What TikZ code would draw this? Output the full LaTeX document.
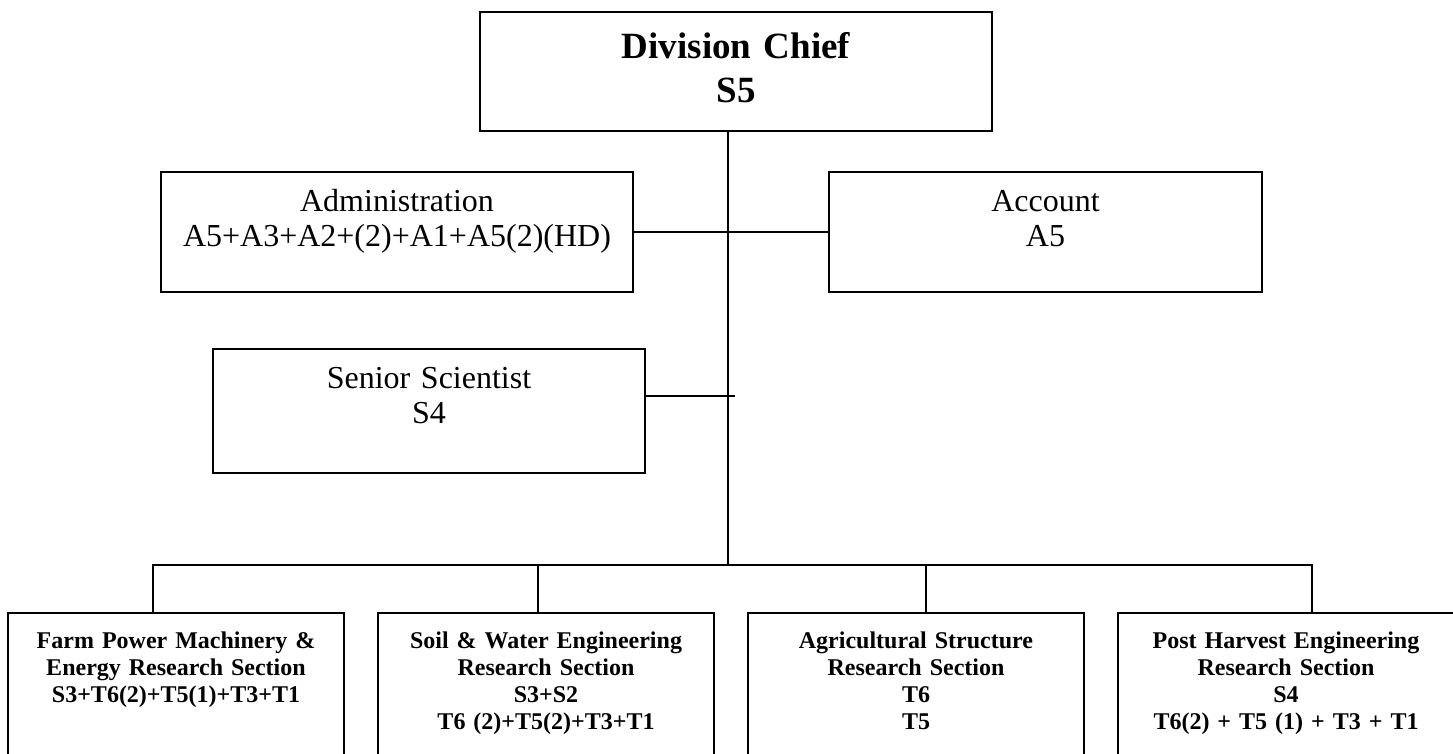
\documentclass[tikz,border=0pt]{standalone}
\usepackage{fontspec}
\setmainfont{Liberation Serif}
\usetikzlibrary{positioning}

\begin{document}
\begin{tikzpicture}[x=1pt, y=1pt, line width=2pt,
        orgbox/.style={rectangle, draw, line width=2pt, inner sep=0pt, align=center},
        topbox/.style={orgbox, font=\bfseries\fontsize{37}{44}\selectfont, text height=46pt, text depth=73pt},
        midbox/.style={orgbox, font=\fontsize{32}{35}\selectfont, text height=39pt, text depth=81pt},
        secbox/.style={orgbox, font=\bfseries\fontsize{24}{27}\selectfont, text height=35pt, text depth=200pt, text width=336pt}]
            \useasboundingbox (0,0) rectangle (1453,-753);
            \clip (0,0) rectangle (1453,-753);

            % Nodes
            \node[topbox, text width=512pt] (chief) at (736,-71.5) {Division Chief\\S5};

            \node[midbox, text width=472pt, anchor=north west] (admin) at (160,-171) {Administration\\A5+A3+A2+(2)+A1+A5(2)(HD)};

            \node[midbox, text width=433pt, right=194pt of admin] (account) {Account\\A5};

            \node[midbox, text width=432pt, text depth=85pt, anchor=north west] (senior) at (212,-348) {Senior Scientist\\S4};

            \node[secbox, anchor=north west] (farm) at (7,-612) {Farm Power Machinery \&\\Energy Research Section\\S3+T6(2)+T5(1)+T3+T1};

            \node[secbox, right=32pt of farm] (soil) {Soil \& Water Engineering\\Research Section\\S3+S2\\T6 (2)+T5(2)+T3+T1};

            \node[secbox, right=32pt of soil] (agri) {Agricultural Structure\\Research Section\\T6\\T5};

            \node[secbox, right=32pt of agri] (harvest) {Post Harvest Engineering\\Research Section\\S4\\T6(2) + T5 (1) + T3 + T1};

            \coordinate (hub) at (728,-565);
            \coordinate (seniortip) at (735,-396);

            \draw (chief.south -| hub) -- (hub);
            \draw (admin.east) -- (account.west);
            \draw (senior.east |- seniortip) -- (seniortip);
            \draw ([xshift=-23pt]farm.north) |- (hub);
            \draw ([xshift=-8pt]soil.north) |- (hub);
            \draw ([xshift=10pt]agri.north) |- (hub);
            \draw ([xshift=26pt]harvest.north) |- (hub);
        \end{tikzpicture}
\end{document}
